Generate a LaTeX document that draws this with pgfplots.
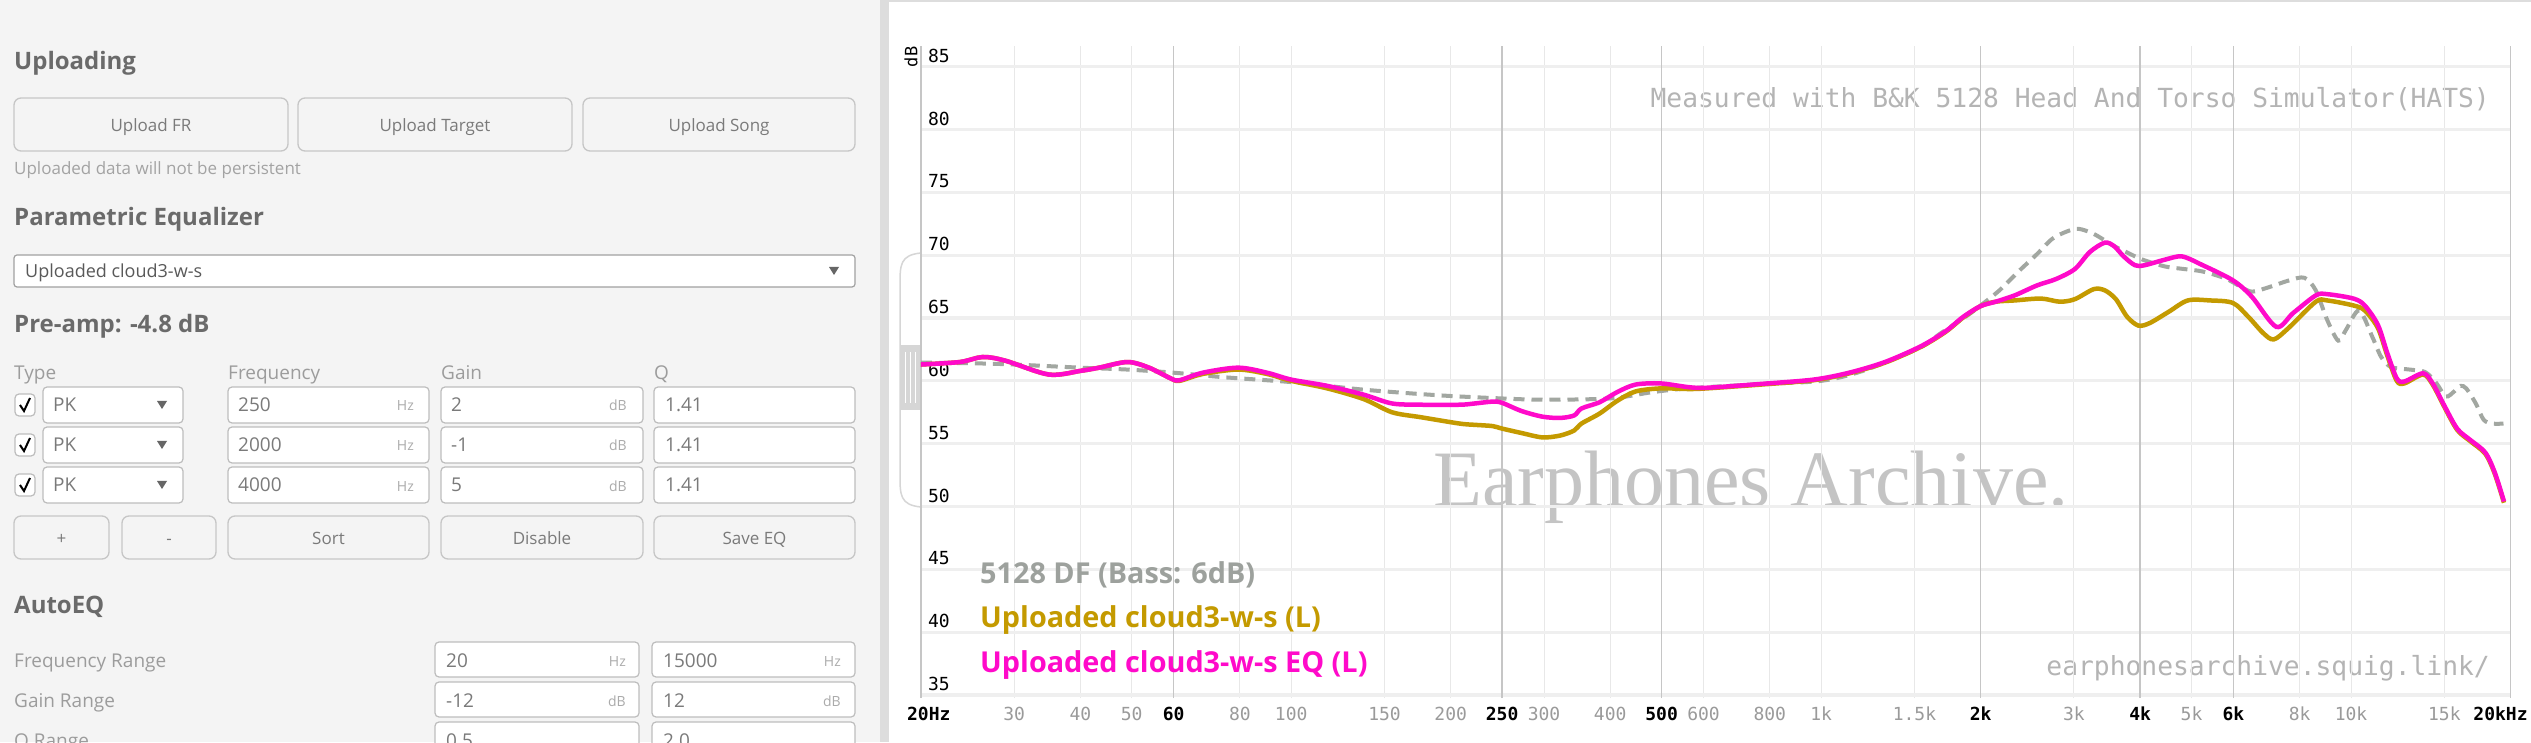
\documentclass[border=0pt]{standalone}
\usepackage{pgfplots}
\pgfplotsset{compat=1.18}
\usepackage{fontspec}
\setmainfont{Open Sans}
\newfontfamily\monof{DejaVu Sans Mono}
\newfontfamily\wmfont{Liberation Serif}
\newcommand\fs[1]{\fontsize{#1pt}{#1pt}\selectfont}
\definecolor{panelbg}{HTML}{F4F4F4}
\definecolor{divider}{HTML}{DDDDDD}
\definecolor{headc}{HTML}{6A6A6A}
\definecolor{btnb}{HTML}{C6C6C6}
\definecolor{btnt}{HTML}{7A7A7A}
\definecolor{hint}{HTML}{A3A3A3}
\definecolor{lblc}{HTML}{9C9C9C}
\definecolor{boxb}{HTML}{BDBDBD}
\definecolor{valc}{HTML}{7A7A7A}
\definecolor{unitc}{HTML}{ABABAB}
\definecolor{hgrid}{HTML}{EFEFEF}
\definecolor{vgrid}{HTML}{E8E8E8}
\definecolor{vgridb}{HTML}{C6C6C6}
\definecolor{tickg}{HTML}{9A9A9A}
\definecolor{tgtc}{HTML}{A2A7A1}
\definecolor{legg}{HTML}{9DA19D}
\definecolor{goldc}{HTML}{C49A00}
\definecolor{magc}{HTML}{FF0ACA}
\definecolor{wmc}{HTML}{C4C4C4}
\definecolor{noteg}{HTML}{B4B4B4}
\definecolor{gripc}{HTML}{D6D6D6}

\newcommand\uibox[4]{\draw[boxb, fill=white, rounded corners=4pt, line width=1.2pt] (#1,#2) rectangle (#3,#4);}
\newcommand\uibtn[5]{\draw[btnb, line width=1.3pt, rounded corners=7pt] (#1,#2) rectangle (#3,#4);
  \node[anchor=base, inner sep=0pt, font=\fs{17}, text=btnt] at ({(#1+#3)/2},{(#2+#4)/2+7}) {#5};}
\newcommand\eqrow[3]{%
  \draw[boxb, fill=white, rounded corners=4pt, line width=1.2pt] (15,#1+7) rectangle (35,#1+29);
  \draw[black, line width=2pt] (20,#1+18) -- (24,#1+24) -- (30,#1+11);
  \uibox{43}{#1}{183}{#1+36}
  \node[anchor=base west, inner sep=0pt, font=\fs{19}, text=valc] at (53,#1+25) {PK};
  \fill[black!60] (157,#1+14) -- (167,#1+14) -- (162,#1+22) -- cycle;
  \uibox{228}{#1}{429}{#1+36}
  \node[anchor=base west, inner sep=0pt, font=\fs{19}, text=valc] at (238,#1+25) {#2};
  \node[anchor=base east, inner sep=0pt, font=\fs{14}, text=unitc] at (414,#1+24) {Hz};
  \uibox{441}{#1}{643}{#1+36}
  \node[anchor=base west, inner sep=0pt, font=\fs{19}, text=valc] at (451,#1+25) {#3};
  \node[anchor=base east, inner sep=0pt, font=\fs{14}, text=unitc] at (627,#1+24) {dB};
  \uibox{654}{#1}{855}{#1+36}
  \node[anchor=base west, inner sep=0pt, font=\fs{19}, text=valc] at (665,#1+25) {1.41};
}
\newcommand\rangerow[6]{%
  \node[anchor=base west, inner sep=0pt, font=\fs{19}, text=lblc] at (14,#1+25) {#2};
  \uibox{435}{#1}{639}{#1+35}
  \node[anchor=base west, inner sep=0pt, font=\fs{19}, text=valc] at (446,#1+25) {#3};
  \node[anchor=base east, inner sep=0pt, font=\fs{14}, text=unitc] at (626,#1+24) {#5};
  \uibox{652}{#1}{855}{#1+35}
  \node[anchor=base west, inner sep=0pt, font=\fs{19}, text=valc] at (663,#1+25) {#4};
  \node[anchor=base east, inner sep=0pt, font=\fs{14}, text=unitc] at (841,#1+24) {#6};
}

\pgfplotstableread{
f db
20 61.45
25 61.4
30 61.3
40 61.05
49 60.9
60 60.65
74 60.3
100 59.9
137 59.3
190 58.85
250 58.6
300 58.5
400 58.6
480 59.1
560 59.4
770 59.75
1000 60.0
1200 60.8
1530 62.6
1670 63.7
1874 65.1
2000 66.0
2170 67.2
2357 68.7
2557 70.1
2730 71.3
2914 71.9
3060 72.1
3268 71.7
3548 70.8
3787 70.2
4042 69.65
4459 69.1
4840 68.9
5252 68.7
5794 68.15
6186 67.5
6498 67.1
6936 67.4
7652 68.0
8170 68.2
8582 67.2
9016 64.85
9460 63.2
9780 64.05
10360 65.6
10970 63.5
11400 61.9
11900 61.1
12900 60.9
13800 60.7
14500 59.8
15100 58.75
15700 59.2
16100 59.6
16500 59.4
17200 58.2
17800 56.9
18500 56.6
19400 56.6
}\target

\pgfplotstableread{
f db
20 61.3
23.7 61.5
26.2 61.9
28.9 61.6
34.9 60.5
40.1 60.8
43.4 61.05
49.1 61.5
53.9 61.05
59.2 60.2
61.5 60.0
68.1 60.55
79.4 60.9
90 60.55
100 60.0
117 59.4
137 58.55
155 57.5
176 57.1
208 56.6
222 56.5
240 56.4
250 56.2
272 55.85
298 55.5
322 55.65
342 56.05
353 56.6
382 57.4
412 58.4
446 59.15
497 59.4
562 59.35
608 59.4
767 59.7
968 60.05
1130 60.6
1320 61.45
1542 62.7
1718 63.9
1855 65.05
2000 65.95
2136 66.3
2318 66.4
2600 66.55
2820 66.3
3012 66.5
3270 67.3
3432 67.2
3600 66.5
3780 65.1
3970 64.4
4170 64.6
4530 65.5
4920 66.4
5420 66.4
5986 66.2
6400 65.1
6830 63.8
7150 63.3
7620 64.2
8582 66.3
9016 66.4
10104 66.0
10616 65.6
11240 64.2
11710 62.0
12200 60.0
12610 59.8
13680 60.5
14260 59.7
14970 58.0
15860 56.1
16790 55.2
17920 54.2
18680 52.6
19440 50.3
}\gold

\pgfplotstableread{
f db
20 61.3
23.7 61.5
26.2 61.9
28.9 61.6
34.9 60.5
40.1 60.8
43.4 61.05
49.1 61.5
53.9 61.05
59.2 60.2
61.5 60.05
68.1 60.65
79.4 61.05
90 60.65
100 60.1
117 59.6
137 58.9
155 58.2
176 58.1
208 58.1
222 58.2
240 58.35
250 58.25
272 57.6
298 57.15
322 57.05
342 57.25
353 57.8
382 58.3
412 59.1
446 59.7
497 59.8
562 59.5
608 59.45
767 59.75
968 60.1
1130 60.65
1320 61.5
1542 62.75
1718 63.95
1855 65.1
2000 65.95
2136 66.3
2318 66.8
2557 67.6
2774 68.1
3012 68.9
3214 70.25
3432 71.0
3576 70.7
3725 69.9
3912 69.2
4076 69.2
4459 69.65
4800 69.9
5252 69.2
5986 68.0
6498 66.7
7227 64.3
7780 65.4
8582 66.8
9016 66.9
10104 66.55
10616 66.0
11240 64.45
11710 62.2
12200 60.2
12610 59.95
13680 60.6
14260 59.8
14970 58.1
15860 56.2
16790 55.3
17920 54.3
18680 52.7
19440 50.4
}\eq

\begin{document}
\begin{tikzpicture}[x=1pt,y=1pt]
\useasboundingbox (0,0) rectangle (2531,742);
\fill[white] (0,0) rectangle (2531,742);
\begin{scope}[yshift=742pt, y=-1pt]
  \begin{scope}
  \clip (0,0) rectangle (889,742);
  \fill[panelbg] (0,0) rectangle (880,742);
  \fill[divider] (880,0) rectangle (889,742);
  \node[anchor=base west, inner sep=0pt, font=\bfseries\fs{24}, text=headc] at (14,70) {Uploading};
  \uibtn{14}{98}{288}{151}{Upload FR}
  \uibtn{298}{98}{572}{151}{Upload Target}
  \uibtn{583}{98}{855}{151}{Upload Song}
  \node[anchor=base west, inner sep=0pt, font=\fs{17}, text=hint] at (14,175) {Uploaded data will not be persistent};
  \node[anchor=base west, inner sep=0pt, font=\bfseries\fs{24}, text=headc] at (14,226) {Parametric Equalizer};
  \draw[boxb!85!black, fill=white, rounded corners=3pt, line width=1.2pt] (14,255) rectangle (855,287);
  \node[anchor=base west, inner sep=0pt, font=\fs{18}, text=black!65] at (25,278) {Uploaded cloud3-w-s};
  \fill[black!60] (829,267) -- (839,267) -- (834,275) -- cycle;
  \node[anchor=base west, inner sep=0pt, font=\bfseries\fs{24}, text=headc] at (14,333) {Pre-amp: -4.8 dB};
  \node[anchor=base west, inner sep=0pt, font=\fs{19}, text=lblc] at (14,380) {Type};
  \node[anchor=base west, inner sep=0pt, font=\fs{19}, text=lblc] at (228,380) {Frequency};
  \node[anchor=base west, inner sep=0pt, font=\fs{19}, text=lblc] at (441,380) {Gain};
  \node[anchor=base west, inner sep=0pt, font=\fs{19}, text=lblc] at (654,380) {Q};
  \eqrow{387}{250}{2}
  \eqrow{427}{2000}{-1}
  \eqrow{467}{4000}{5}
  \uibtn{14}{516}{109}{559}{+}
  \uibtn{122}{516}{216}{559}{-}
  \uibtn{228}{516}{429}{559}{Sort}
  \uibtn{441}{516}{643}{559}{Disable}
  \uibtn{654}{516}{855}{559}{Save EQ}
  \node[anchor=base west, inner sep=0pt, font=\bfseries\fs{24}, text=headc] at (14,613) {AutoEQ};
  \rangerow{642}{Frequency Range}{20}{15000}{Hz}{Hz}
  \rangerow{682}{Gain Range}{-12}{12}{dB}{dB}
  \rangerow{722}{Q Range}{0.5}{2.0}{}{}
  \end{scope}
  % graph panel decorations
  \draw[divider, line width=1.5pt] (889,1) -- (2531,1);
  \draw[gripc, line width=1.5pt] (921,253) .. controls (900,255) and (900,265) .. (900,285) -- (900,475) .. controls (900,495) and (900,505) .. (921,507);
  \fill[gripc] (900,345) rectangle (920,410);
  \foreach \gx in {905,910,915} \draw[white, line width=1pt] (\gx,352) -- (\gx,403);
  \node[rotate=90, inner sep=0pt, font=\monof\fs{17}] at (911,57) {dB};
  \node[anchor=base west, inner sep=0pt, font=\wmfont\fs{80}, text=wmc] at (1433,507) {Earphones Archive.};
  \node[anchor=base east, inner sep=0pt, font=\monof\fs{26.3}, text=noteg] at (2490,108) {Measured with B\&K 5128 Head And Torso Simulator(HATS)};
  \node[anchor=base east, inner sep=0pt, font=\monof\fs{26.3}, text=noteg] at (2490,675) {earphonesarchive.squig.link/};
\end{scope}
\begin{axis}[
  at={(920.8pt,44pt)}, anchor=south west,
  scale only axis, width=1589.7pt, height=652pt,
  xmode=log, log basis x=10,
  xmin=20, xmax=20000, ymin=34.76, ymax=86.65,
  axis line style={draw=none},
  major tick length=0pt, minor tick length=0pt,
  xtick={30,40,50,80,100,150,200,300,400,600,800,1000,1500,3000,5000,8000,10000,15000},
  xticklabels={30,40,50,80,100,150,200,300,400,600,800,1k,1.5k,3k,5k,8k,10k,15k},
  extra x ticks={20,60,250,500,2000,4000,6000,20000},
  extra x tick labels={\hspace*{16pt}20Hz,60,250,500,2k,4k,6k,20kHz\hspace*{20pt}},
  extra x tick style={grid=major, major grid style={vgridb, line width=1.6pt},
     xticklabel style={text=black, font=\monof\bfseries\fs{18}}},
  xmajorgrids=true, ymajorgrids=true,
  major grid style={vgrid, line width=1pt},
  y grid style={hgrid, line width=3.2pt},
  ytick={35,40,...,85},
  /pgf/number format/assume math mode=true,
  xticklabel style={font=\monof\fs{18}, text=tickg, anchor=base, yshift=-22pt, inner sep=0pt},
  yticklabel style={font=\monof\fs{18}, text=black, anchor=south west, inner sep=0pt, xshift=7pt, yshift=4pt},
]
\addplot[tgtc, line width=4pt, dash pattern=on 11pt off 7pt, smooth] table[x=f, y=db] {\target};
\addplot[goldc, line width=4.5pt, smooth] table[x=f, y=db] {\gold};
\addplot[magc, line width=4.5pt, smooth] table[x=f, y=db] {\eq};
\end{axis}
\begin{scope}[yshift=742pt, y=-1pt]
  \node[anchor=base west, inner sep=0pt, font=\bfseries\fs{28.8}, text=legg] at (980,583) {5128 DF (Bass: 6dB)};
  \node[anchor=base west, inner sep=0pt, font=\bfseries\fs{28.8}, text=goldc] at (980,627) {Uploaded cloud3-w-s (L)};
  \node[anchor=base west, inner sep=0pt, font=\bfseries\fs{28.8}, text=magc] at (980,672) {Uploaded cloud3-w-s EQ (L)};
\end{scope}
\end{tikzpicture}
\end{document}
